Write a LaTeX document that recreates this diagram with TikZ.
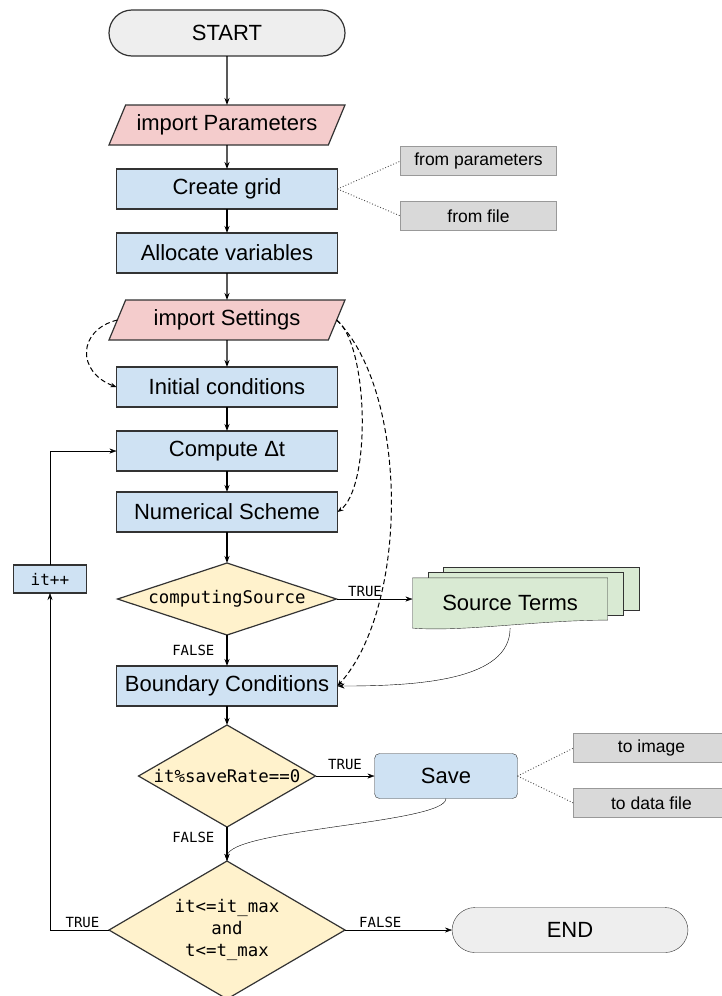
\documentclass[tikz,border=0pt]{standalone}
\usepackage{fontspec}
\setmainfont{Liberation Sans}
\setmonofont{DejaVu Sans Mono}
\usetikzlibrary{arrows.meta,positioning,shapes.geometric,backgrounds}
\definecolor{termgray}{HTML}{EEEEEE}
\definecolor{iopink}{HTML}{F4CCCC}
\definecolor{stepblue}{HTML}{CFE2F3}
\definecolor{testyellow}{HTML}{FFF2CC}
\definecolor{srcgreen}{HTML}{D9EAD3}
\definecolor{optgray}{HTML}{D9D9D9}
\newcommand{\codefont}{\ttfamily\fontsize{17.4}{22.3}\selectfont}
\tikzset{
    terminal/.style={rectangle,rounded corners=23pt,draw=black!80,fill=termgray,outer sep=0pt,minimum width=236pt,minimum height=46pt},
    inout/.style={trapezium,trapezium left angle=58.5,trapezium right angle=121.5,trapezium stretches body,draw=black!80,fill=iopink,outer sep=0pt,minimum width=236pt,minimum height=40pt},
    process/.style={rectangle,draw=black!80,fill=stepblue,outer sep=0pt,minimum width=221pt,minimum height=40pt},
    decision/.style={diamond,draw=black!80,fill=testyellow,inner sep=0pt,outer sep=0pt,font=\codefont},
    option/.style={rectangle,draw=black!40,fill=optgray,outer sep=0pt,minimum width=156pt,minimum height=29pt,font=\fontsize{17.5}{20}\selectfont},
    cond/.style={font=\ttfamily\fontsize{14}{16}\selectfont,inner sep=2pt},
    pre/.style={->,>={Stealth[length=7pt,width=5pt]}},
    post/.style={<-,>={Stealth[length=7pt,width=5pt]}},
    link/.style={dotted,line width=0.9pt,black!70},
    setting/.style={->,>={Stealth[length=6pt,width=4.5pt]},dash pattern=on 5pt off 3pt,line width=1pt}
}

\begin{document}
\begin{tikzpicture}[x=1pt,y=-1pt,line width=1.2pt,font=\fontsize{22}{25}\selectfont]
    \useasboundingbox (0,0) rectangle (721,996);

    \node[terminal] (start) at (227,33)                           {START};
    \node[inout]    (import params) [below=49pt of start]         {import Parameters}
        edge[post] (start);
    \node[process]  (create grid) [below=24pt of import params]   {Create grid}
        edge[post] (import params);
    \node[process]  (allocate) [below=24pt of create grid]        {Allocate variables}
        edge[post] (create grid);
    \node[inout]    (import settings) [below=27pt of allocate]    {import Settings}
        edge[post] (allocate);
    \node[process]  (initial) [below=27pt of import settings]     {Initial conditions}
        edge[post] (import settings);
    \node[process]  (compute dt) [below=24pt of initial]          {Compute Δt}
        edge[post] (initial);
    \node[process]  (scheme) [below=21pt of compute dt]           {Numerical Scheme}
        edge[post] (compute dt);
    \node[decision,aspect=3.04,minimum width=219pt,minimum height=72pt] (source test) [below=31pt of scheme] {computingSource}
        edge[post] (scheme);
    \node[process]  (boundary) [below=31pt of source test]        {Boundary Conditions}
        edge[post] node[cond,left=10pt] {FALSE} (source test);
    \node[decision,aspect=1.735,minimum width=177pt,minimum height=102pt] (save test) [below=19pt of boundary] {it\%saveRate==0}
        edge[post] (boundary);
    \node[decision,aspect=1.71,minimum width=236pt,minimum height=138pt,align=center] (loop test) [below=34pt of save test] {it<=it\_max\\and\\t<=t\_max}
        edge[post] node[cond,left=10pt,pos=0.7] {FALSE} (save test);

    \node[option] (from params) [right=63pt of create grid,yshift=28pt]  {from parameters};
    \node[option] (from file)   [right=63pt of create grid,yshift=-27pt] {from file};

    \node[process,minimum width=73pt,minimum height=28pt,font=\ttfamily\fontsize{16}{18}\selectfont] (increment) [left=31pt of source test,yshift=20pt] {it++};

    \node[minimum width=194pt,minimum height=49pt] (source terms) [right=76pt of source test,yshift=-4pt] {Source Terms};
    \begin{pgfonlayer}{background}
        \draw[draw=black!80,fill=srcgreen] ([shift={(31,-11)}]source terms.north west) rectangle ([shift={(31,-18)}]source terms.south east);
        \draw[draw=black!80,fill=srcgreen] ([shift={(16,-5.5)}]source terms.north west) rectangle ([shift={(15,-13)}]source terms.south east);
        \draw[draw=black!80,fill=srcgreen] (source terms.north west) -- (source terms.north east) -- ([yshift=8pt]source terms.south east)
            .. controls +(-70,0) and +(50,4) .. (source terms.south west) -- cycle;
    \end{pgfonlayer}

    \node[process,rounded corners=5pt,minimum width=143pt,minimum height=45pt] (save) [right=59pt of save test] {Save}
        edge[post] node[cond,above=4pt] {TRUE} (save test);
    \node[option] (to image) [right=56pt of save,yshift=28pt]  {to image};
    \node[option] (to data)  [right=56pt of save,yshift=-27pt] {to data file};

    \node[terminal,minimum height=45pt] (end) [right=107pt of loop test] {END};

    \draw[pre] (source test.east) -- node[cond,above,pos=0.375] {TRUE} (source test.east -| source terms.west);
    \draw[pre] (source terms.south) .. controls +(0,52) and +(82,0) .. (boundary.east);
    \draw[pre] (save.south) .. controls +(0,25) and +(0,-32) .. (loop test.north);
    \draw[pre] (loop test.east) -- node[cond,above,pos=0.33] {FALSE} (end);
    \draw[pre] (loop test.west) -| node[cond,above,pos=0.225] {TRUE} (increment.south);
    \draw[pre] (increment.north) |- (compute dt.west);

    \draw[link] (create grid.east) -- (from params.west);
    \draw[link] (create grid.east) -- (from file.west);
    \draw[link] (save.east) -- (to image.west);
    \draw[link] (save.east) -- (to data.west);

    \draw[setting] (import settings.west) .. controls +(-40,10) and +(-40,-15) .. (initial.west);
    \draw[setting] (import settings.east) .. controls +(32,25) and +(34,-25) .. (scheme.east);
    \draw[setting] (import settings.east) .. controls +(72,72) and +(72,-80) .. (boundary.east);
\end{tikzpicture}
\end{document}
